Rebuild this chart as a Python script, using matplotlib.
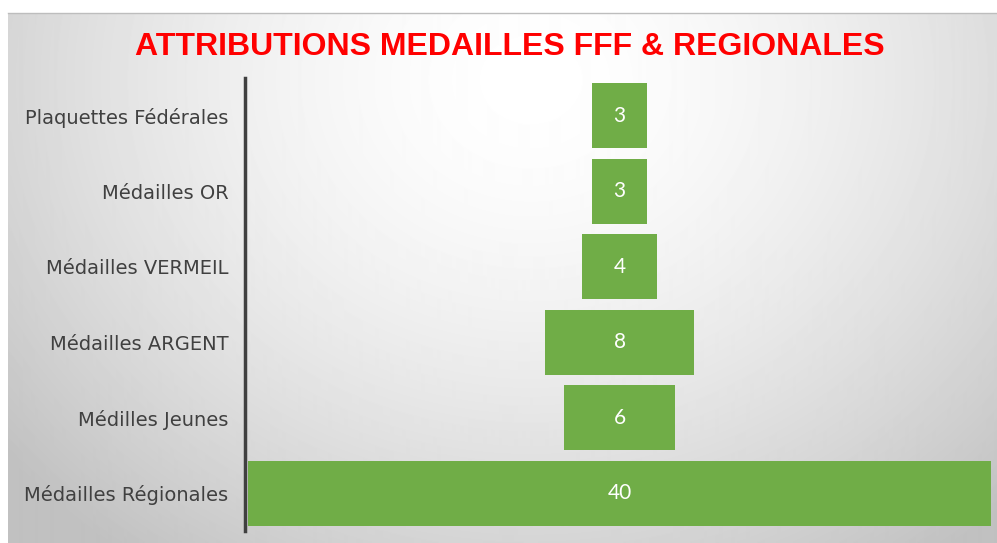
import numpy as np
import matplotlib
matplotlib.use("Agg")
import matplotlib.pyplot as plt

# data
categories = ["Plaquettes Fédérales", "Médailles OR", "Médailles VERMEIL",
              "Médailles ARGENT", "Médilles Jeunes", "Médailles Régionales"]
values = [3, 3, 4, 8, 6, 40]
title = "ATTRIBUTIONS MEDAILLES FFF & REGIONALES"

W, H = 997, 543
fig = plt.figure(figsize=(W / 100, H / 100), dpi=100)
fig.patch.set_facecolor("white")

# slide background with radial gradient
bg = fig.add_axes([8 / W, 0, 1 - 8 / W, (H - 13) / H])
bg.set_axis_off()
yy, xx = np.mgrid[13:H, 8:W]
r = np.sqrt((xx - 530.0) ** 2 + ((yy - 80.0) * 1.15) ** 2)
shade = 1 - 0.21 * np.clip(r / 620.0, 0, 1.1) ** 1.6
bg.imshow(shade, cmap="gray", vmin=0, vmax=1, aspect="auto", interpolation="bilinear")
fig.add_artist(plt.Line2D([8 / W, 1], [(H - 13) / H] * 2, color="#bdbdbd", lw=1))

# funnel axes
ax = fig.add_axes([248 / W, (H - 531) / H, (991 - 248) / W, (531 - 78) / H])
ax.patch.set_alpha(0)
y = np.arange(len(categories))
vals = np.array(values, dtype=float)
ax.barh(y, vals, left=-vals / 2, height=0.86, color="#70ad47")
for yi, v in zip(y, values):
    ax.text(0, yi, str(v), ha="center", va="center", color="white",
            fontsize=15, family="Lato")

ax.set_xlim(-20, 20)
ax.set_ylim(len(categories) - 0.5, -0.5)
ax.tick_params(axis="y", length=0, pad=12, labelsize=14, labelcolor="#404040")
ax.set_yticks(y)
ax.set_yticklabels(categories)
for lab in ax.get_yticklabels():
    lab.set_fontfamily("Lato")
ax.set_xticks([])
for s in ["top", "right", "bottom"]:
    ax.spines[s].set_visible(False)
ax.spines["left"].set_color("#404040")
ax.spines["left"].set_linewidth(2.5)
ax.spines["left"].set_position(("outward", 2))

fig.text(510 / W, 1 - 47 / H, title, ha="center", va="center", color="#ff0000",
         fontsize=23, fontweight="bold", family="Liberation Sans")

fig.savefig("out.png", dpi=100)
